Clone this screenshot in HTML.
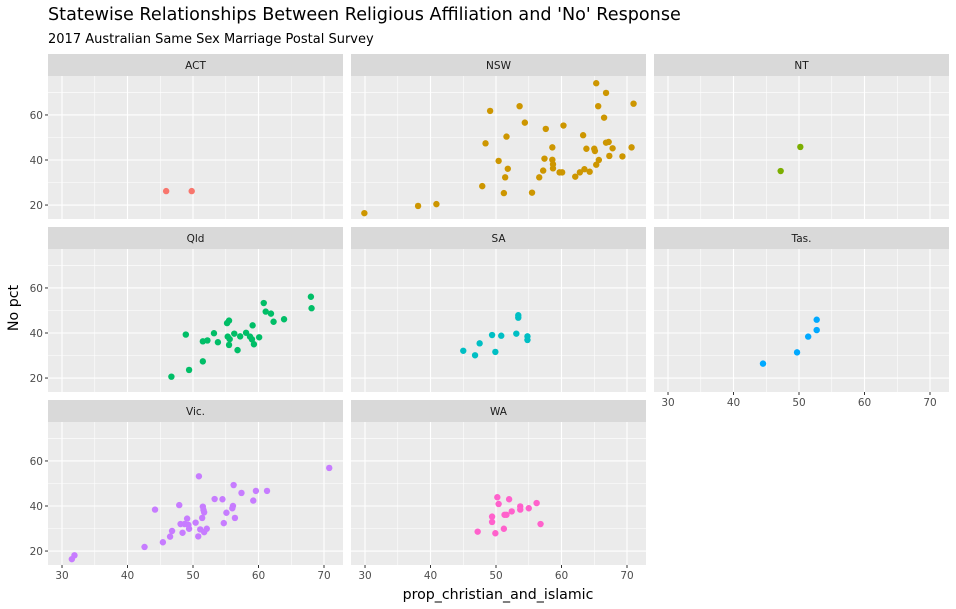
<!DOCTYPE html>
<html><head><meta charset="utf-8"><style>
html,body{margin:0;padding:0;background:#fff;}
svg{display:block;font-family:"DejaVu Sans","Liberation Sans",sans-serif;}
</style></head><body>
<svg id="chart" width="956" height="609" xmlns="http://www.w3.org/2000/svg">
<text x="48" y="20" font-size="17.6" fill="#000">Statewise Relationships Between Religious Affiliation and 'No' Response</text>
<text x="48" y="43" font-size="13" fill="#000">2017 Australian Same Sex Marriage Postal Survey</text>
<text x="498" y="599" font-size="14.2" text-anchor="middle" fill="#000">prop_christian_and_islamic</text>
<text x="18" y="308" font-size="14.2" text-anchor="middle" fill="#000" transform="rotate(-90 18 308)">No pct</text>
<g id="panels"></g>
</svg>
<script>
const states = ["ACT","NSW","NT","Qld","SA","Tas.","Vic.","WA"];
const colors = ["#F8766D","#CD9600","#7CAE00","#00BE67","#00BFC4","#00A9FF","#C77CFF","#FF61CC"];
const xTicks = [30,40,50,60,70];
const yTicks = [20,40,60];
const actX=[45.9,49.8];
const actY=[26.2,26.2];
const nswX=[29.9,38.1,40.9,47.9,48.4,49.1,50.4,51.2,51.4,51.8,51.6,53.6,54.4,55.5,56.6,57.2,57.4,57.6,58.6,58.6,58.7,58.7,59.7,60.1,60.3,62.1,62.8,63.5,63.3,63.8,64.3,65.0,65.1,65.3,65.7,65.3,65.6,66.5,66.8,66.8,67.2,67.3,67.8,69.3,70.7,71.0];
const nswY=[16.4,19.6,20.4,28.4,47.4,61.8,39.6,25.3,32.3,36.1,50.4,63.9,56.6,25.5,32.3,35.3,40.6,53.8,45.6,40.1,38.1,36.3,34.5,34.5,55.3,32.6,34.5,35.9,51.0,45.0,34.8,45.0,44.0,37.9,40.0,74.1,63.9,58.8,69.8,47.7,48.0,41.8,45.2,41.6,45.6,65.0];
const ntX=[47.2,50.2];
const ntY=[35.1,45.8];
const qldX=[46.7,49.4,51.5,48.9,51.5,52.2,53.2,53.8,55.2,55.5,55.3,55.6,55.5,56.3,56.8,57.2,58.1,58.7,59.0,59.3,59.1,60.1,60.8,61.1,61.9,62.3,63.9,68.0,68.1];
const qldY=[20.6,23.6,27.4,39.3,36.3,36.7,39.9,35.9,44.4,45.5,38.4,37.3,34.7,39.7,32.4,38.5,40.1,38.4,37.2,35.0,43.4,38.1,53.3,49.5,48.6,45.0,46.1,56.1,51.0];
const saX=[45.0,46.8,47.5,49.4,49.9,50.8,53.1,53.4,53.4,54.8,54.8];
const saY=[32.1,30.1,35.4,39.1,31.6,38.8,39.7,47.9,46.8,38.5,36.9];
const tasX=[44.5,49.7,51.4,52.7,52.7];
const tasY=[26.4,31.4,38.4,41.3,45.9];
const vicX=[31.5,31.9,42.6,44.2,45.4,46.5,46.8,47.9,48.1,48.4,49.1,48.7,49.3,49.4,50.4,50.8,50.9,51.1,51.4,51.5,51.6,51.7,51.7,52.1,53.3,54.5,54.7,55.1,56.0,56.1,56.2,56.4,57.4,59.2,59.6,61.3,70.8];
const vicY=[16.4,18.1,21.8,38.4,23.9,26.4,28.9,40.4,32.0,28.1,34.4,32.0,31.6,29.9,32.6,26.5,53.2,29.6,34.7,39.7,38.2,37.2,28.4,29.9,43.1,43.0,32.4,37.0,39.0,40.0,49.3,34.7,45.8,42.4,46.7,46.7,56.9];
const waX=[47.2,49.9,49.4,49.4,50.2,50.4,51.2,51.3,51.6,52.0,52.4,53.7,53.7,55.0,56.2,56.8];
const waY=[28.6,27.9,35.3,32.9,43.9,40.9,29.9,36.1,36.1,43.0,37.6,39.8,38.4,39.0,41.3,32.0];
const allX=[actX,nswX,ntX,qldX,saX,tasX,vicX,waX];
const allY=[actY,nswY,ntY,qldY,saY,tasY,vicY,waY];

const NS="http://www.w3.org/2000/svg";
const g=document.getElementById('panels');
const colL=[48,351,654], pw=295;
const rowT=[54,227,400], sh=22, ph=143;
const xMin=27.86, xMax=72.9, yMin=13.8, yMax=77.3;
function mk(tag,attrs,parent){const e=document.createElementNS(NS,tag);for(const k in attrs)e.setAttribute(k,attrs[k]);(parent||g).appendChild(e);return e;}
states.forEach((st,i)=>{
  const c=i%3, r=Math.floor(i/3);
  const L=colL[c], T=rowT[r]+sh;
  const sx=v=>L+(v-xMin)/(xMax-xMin)*pw;
  const sy=v=>T+ph-(v-yMin)/(yMax-yMin)*ph;
  const pg=mk('g',{});
  
  
  const strip=mk('rect',{x:L,y:rowT[r],width:pw,height:sh,fill:'#D9D9D9'},pg);
  
  
  const st1=mk('text',{x:L+pw/2,y:rowT[r]+15,'font-size':10.5,'text-anchor':'middle',fill:'#1A1A1A'},pg);
  st1.textContent=st;
  
  
  const bg=mk('rect',{x:L,y:T,width:pw,height:ph,fill:'#EBEBEB'},pg);
  
  
  [35,45,55,65].forEach(v=>mk('line',{x1:sx(v),x2:sx(v),y1:T,y2:T+ph,stroke:'#fff','stroke-width':0.55},pg));
  [30,50,70].forEach(v=>mk('line',{x1:L,x2:L+pw,y1:sy(v),y2:sy(v),stroke:'#fff','stroke-width':0.55},pg));
  xTicks.forEach(v=>mk('line',{x1:sx(v),x2:sx(v),y1:T,y2:T+ph,stroke:'#fff','stroke-width':1.1},pg));
  yTicks.forEach(v=>mk('line',{x1:L,x2:L+pw,y1:sy(v),y2:sy(v),stroke:'#fff','stroke-width':1.1},pg));
  if(c===0){
    yTicks.forEach(v=>{
      mk('line',{x1:L-3,x2:L,y1:sy(v),y2:sy(v),stroke:'#333','stroke-width':1},pg);
      const t=mk('text',{x:L-5,y:sy(v)+4,'font-size':10.5,'text-anchor':'end',fill:'#4D4D4D'},pg);
      t.textContent=v;
      
      
    });
  }
  if(r===2 || i===5){
    xTicks.forEach(v=>{
      mk('line',{x1:sx(v),x2:sx(v),y1:T+ph,y2:T+ph+3,stroke:'#333','stroke-width':1},pg);
      const t=mk('text',{x:sx(v),y:T+ph+14,'font-size':10.5,'text-anchor':'middle',fill:'#4D4D4D'},pg);
      t.textContent=v;
      
      
    });
  }
  allX[i].forEach((xv,j)=>{
    const p=mk('circle',{cx:sx(xv),cy:sy(allY[i][j]),r:3.2,fill:colors[i]},pg);
    
    
  });
});
</script>
</body></html>
